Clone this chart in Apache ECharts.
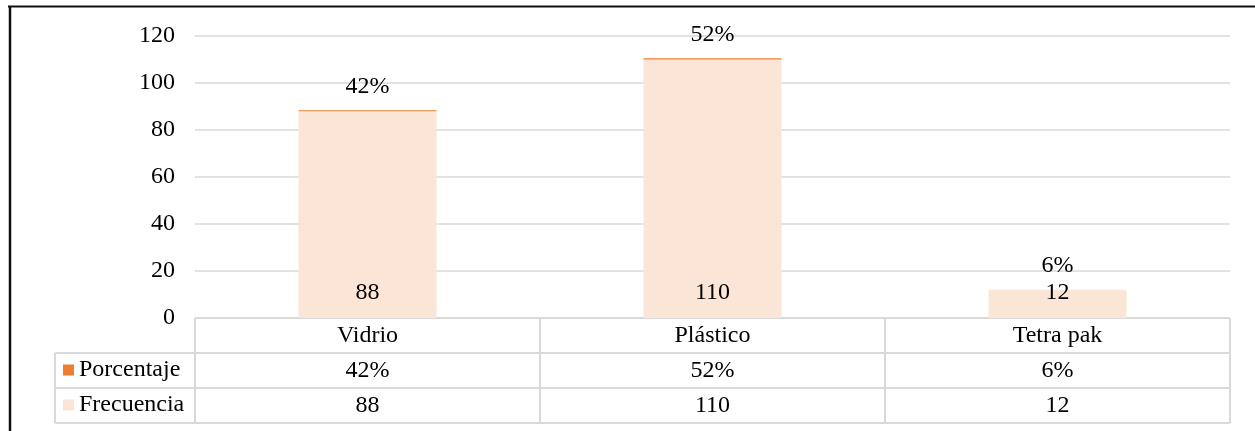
<!DOCTYPE html>
<html>
<head>
<meta charset="utf-8">
<title>Envases</title>
<script src="https://cdn.jsdelivr.net/npm/echarts@6/dist/echarts.min.js"></script>
<style>
  html, body { margin: 0; padding: 0; background: #fff; }
  #chart { width: 1255px; height: 431px; }
</style>
</head>
<body>
<div id="chart"></div>
<script>
// datos del gráfico
const categorias = ['Vidrio', 'Plástico', 'Tetra pak'];
const frecuencia = [88, 110, 12];
const porcentaje = [0.42, 0.52, 0.06];
const yTicks = { min: 0, max: 120, interval: 20 };

const FONT = "'Liberation Serif', 'Times New Roman', serif";
const FS = 24;
// layout del área y de la tabla
const gLeft = 195, gRight = 1230, gTop = 36, gBase = 318;
const rowH = 35, tabLeft = 55;
const lineColor = '#d9d9d9';

const pct = v => Math.round(v * 100) + '%';

const chart = echarts.init(document.getElementById('chart'));

// líneas de la tabla de datos
const colW = (gRight - gLeft) / categorias.length;
const tableLines = [];
function hline(x1, x2, y) {
  tableLines.push({ type: 'line', shape: { x1: x1, y1: y, x2: x2, y2: y },
    style: { stroke: lineColor, lineWidth: 2 }, silent: true });
}
function vline(x, y1, y2) {
  tableLines.push({ type: 'line', shape: { x1: x, y1: y1, x2: x, y2: y2 },
    style: { stroke: lineColor, lineWidth: 2 }, silent: true });
}
hline(gLeft, gRight, gBase);
hline(tabLeft, gRight, gBase + rowH);
hline(tabLeft, gRight, gBase + rowH * 2);
hline(tabLeft, gRight, gBase + rowH * 3);
vline(tabLeft, gBase + rowH, gBase + rowH * 3);
for (let i = 0; i <= categorias.length; i++) {
  vline(gLeft + colW * i, gBase, gBase + rowH * 3);
}
// marco negro
tableLines.push({ type: 'line', shape: { x1: 8, y1: 6.5, x2: 1255, y2: 6.5 },
  style: { stroke: '#111', lineWidth: 2 }, silent: true });
tableLines.push({ type: 'line', shape: { x1: 10, y1: 6, x2: 10, y2: 431 },
  style: { stroke: '#111', lineWidth: 2.5 }, silent: true });

const tableAxis = (offset, fmt) => ({
  type: 'category',
  data: categorias,
  position: 'bottom',
  offset: offset,
  axisLine: { show: false },
  axisTick: { show: false },
  axisLabel: {
    margin: 6, fontFamily: FONT, fontSize: FS, color: '#000', lineHeight: 23,
    formatter: fmt
  }
});

const option = {
  animation: false,
  textStyle: { fontFamily: FONT },
  grid: { left: gLeft, right: 1255 - gRight, top: gTop, bottom: 431 - gBase },
  legend: {
    data: ['Porcentaje', 'Frecuencia'],
    orient: 'vertical',
    left: 63,
    top: gBase + rowH + 5,
    padding: 0,
    itemWidth: 11,
    itemHeight: 11,
    itemGap: 11,
    icon: 'rect',
    textStyle: { fontFamily: FONT, fontSize: FS, color: '#000', lineHeight: 24 }
  },
  xAxis: [
    tableAxis(0, v => v),
    tableAxis(rowH, (v, i) => pct(porcentaje[i])),
    tableAxis(rowH * 2, (v, i) => String(frecuencia[i]))
  ],
  yAxis: {
    type: 'value',
    min: yTicks.min,
    max: yTicks.max,
    interval: yTicks.interval,
    axisLine: { show: false },
    axisTick: { show: false },
    axisLabel: { margin: 20, fontFamily: FONT, fontSize: FS, color: '#000' },
    splitLine: { lineStyle: { color: lineColor, width: 1.5 } }
  },
  series: [
    {
      name: 'Frecuencia',
      type: 'bar',
      stack: 'total',
      barWidth: '40%',
      data: frecuencia,
      itemStyle: { color: '#fbe5d6' },
      label: {
        show: true, position: 'insideBottom', distance: 13,
        fontFamily: FONT, fontSize: FS, color: '#000'
      }
    },
    {
      name: 'Porcentaje',
      type: 'bar',
      stack: 'total',
      barWidth: '40%',
      data: porcentaje,
      itemStyle: { color: '#ed7d31' },
      label: {
        show: true, position: 'top', distance: 12,
        fontFamily: FONT, fontSize: FS, color: '#000',
        formatter: p => pct(p.value)
      }
    }
  ],
  graphic: tableLines
};

chart.setOption(option);
</script>
</body>
</html>
